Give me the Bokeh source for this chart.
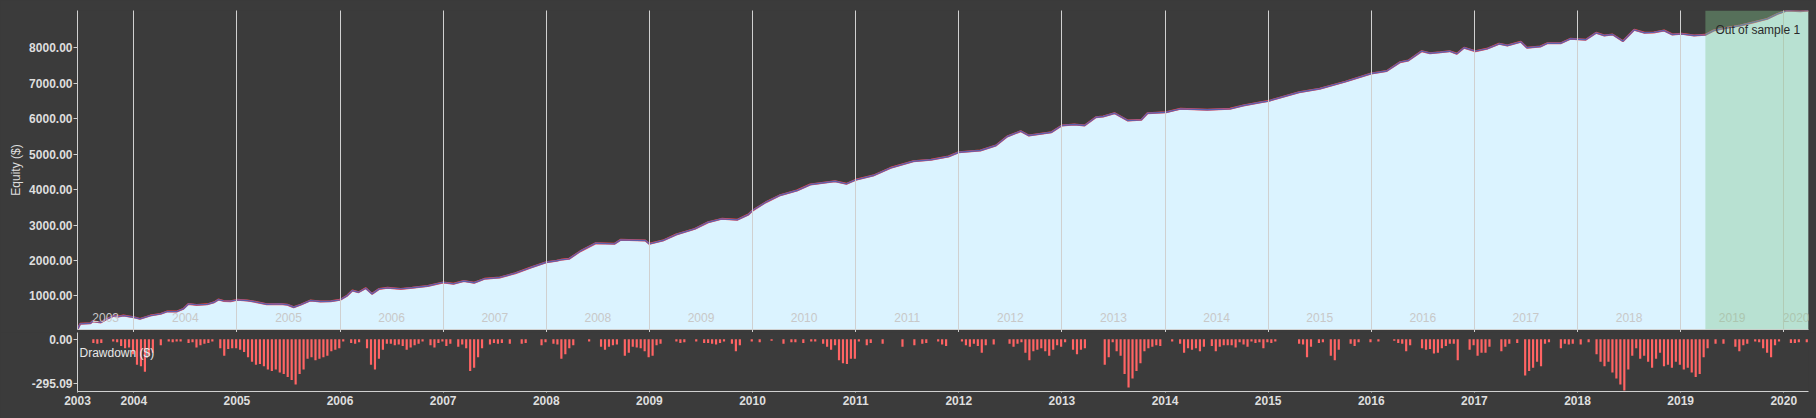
import numpy as np
from bokeh.plotting import figure
from bokeh.layouts import column
from bokeh.models import (Range1d, FixedTicker, NumeralTickFormatter,
                          CustomJSTickFormatter, BoxAnnotation, Label)
from bokeh.core.properties import value
from bokeh.embed import file_html
from bokeh.resources import INLINE

# ---------------- data ----------------
eq_year = [2003.454, 2003.48, 2003.58, 2003.60, 2003.68, 2003.74, 2003.81, 2003.85, 2003.90,
           2004.00, 2004.06, 2004.16, 2004.26, 2004.32, 2004.42, 2004.48, 2004.53, 2004.61,
           2004.71, 2004.78, 2004.82, 2004.87, 2004.94,
           2005.00, 2005.10, 2005.16, 2005.29, 2005.42, 2005.49, 2005.55, 2005.62, 2005.71,
           2005.81, 2005.91,
           2006.00, 2006.07, 2006.12, 2006.18, 2006.25, 2006.31, 2006.38, 2006.46, 2006.59,
           2006.70, 2006.85,
           2007.00, 2007.10, 2007.20, 2007.30, 2007.40, 2007.55, 2007.70, 2007.85,
           2008.00, 2008.10, 2008.14, 2008.22, 2008.33, 2008.48, 2008.66, 2008.72, 2008.96,
           2009.00, 2009.13, 2009.26, 2009.44, 2009.57, 2009.70, 2009.85, 2009.96,
           2010.00, 2010.13, 2010.26, 2010.43, 2010.56, 2010.80, 2010.91,
           2011.00, 2011.17, 2011.34, 2011.56, 2011.73, 2011.90,
           2012.00, 2012.21, 2012.36, 2012.47, 2012.60, 2012.68, 2012.90,
           2013.00, 2013.12, 2013.22, 2013.33, 2013.40, 2013.51, 2013.64, 2013.77, 2013.83,
           2014.01, 2014.15, 2014.41, 2014.63, 2014.76, 2014.93,
           2015.00, 2015.30, 2015.50, 2015.75,
           2016.00, 2016.15, 2016.28, 2016.36, 2016.49, 2016.57, 2016.67, 2016.76, 2016.83,
           2016.90,
           2017.01, 2017.12, 2017.24, 2017.32, 2017.45, 2017.51, 2017.64, 2017.71, 2017.84,
           2017.93,
           2018.08, 2018.18, 2018.26, 2018.34, 2018.44, 2018.55, 2018.65, 2018.74, 2018.84,
           2018.92,
           2019.01, 2019.13, 2019.24, 2019.32, 2019.45, 2019.58, 2019.71, 2019.84, 2019.94,
           2020.03, 2020.16, 2020.24]
eq_value = [50, 210, 226, 283, 250, 350, 443, 415, 443,
            396, 350, 443, 491, 556, 560, 632, 773, 745,
            760, 820, 895, 858, 850,
            887, 867, 840, 763, 773, 750, 678, 754, 867,
            839, 848,
            887, 1008, 1150, 1102, 1215, 1056, 1197, 1226, 1197,
            1230, 1280,
            1380, 1340, 1420, 1370, 1480, 1520, 1640, 1800,
            1950, 1990, 2017, 2045, 2260, 2486, 2469, 2582, 2562,
            2469, 2562, 2732, 2893, 3079, 3175, 3147, 3297,
            3410, 3644, 3833, 3975, 4144, 4237, 4164,
            4277, 4398, 4616, 4802, 4842, 4935,
            5056, 5105, 5246, 5500, 5650, 5528, 5622,
            5811, 5839, 5811, 6045, 6065, 6158, 5952, 5971, 6158,
            6186, 6282, 6254, 6282, 6376, 6469,
            6500, 6750, 6850, 7050,
            7280, 7350, 7600, 7647, 7910, 7853, 7881, 7910, 7836,
            8006,
            7910, 7977, 8119, 8071, 8175, 8006, 8042, 8136, 8136,
            8260,
            8232, 8429, 8353, 8381, 8192, 8514, 8429, 8440, 8494,
            8381,
            8400, 8353, 8372, 8494, 8570, 8636, 8729, 8823, 8964,
            9059, 9040, 9059]

# drawdown bars, one every 1/26 year starting at dd_start
dd_start = 2003.454
dd_per_year = 26
drawdown = [
    # 2003.5 - 2006.8
    0, 0, 0, 0, -25, -30, -25, 0, 0, -15,
    -20, -45, -60, -55, -100, -170, -180, -215, -110, -90,
    0, -40, 0, -15, -20, -15, -15, 0, -25, -20,
    -55, -40, -30, -25, -15, 0, -60, -110, -65, -60,
    -60, -70, -85, -120, -150, -170, -165, -180, -200, -210,
    -200, -220, -230, -250, -270, -300, -230, -200, -130, -120,
    -140, -130, -120, -110, -80, -70, -60, -15, 0, -25,
    -30, -20, 0, -60, -170, -200, -130, -70, -30, -30,
    -40, -35, -45, -70, -55, -40, -30, -15, 0,
    # 2006.9 - 2010.1
    -40, -55, -25, -15, -45, -30, 0, -50, -35, -60,
    -210, -190, -120, -60, 0, -35, -25, -30, -25, 0,
    -30, 0, 0, -30, -25, 0, 0, 0, -40, -20,
    0, -30, -35, -130, -100, -60, -40, 0, 0, 0,
    -15, 0, 0, -50, -70, -50, -40, -35, 0, -110,
    -90, -50, -55, -60, -80, -120, -110, -40, -30, 0,
    0, 0, -15, -25, -20, 0, 0, -15, 0, -25,
    -25, -30, -35, -25, -15, 0, -30, -80, -40, 0,
    0, -15, 0, -20, 0, 0,
    # 2010.2 - 2013.5
    -10, 0, 0, -30, 0, -20, -20, 0, -25, 0,
    -15, -15, 0, -30, -50, -70, -40, -140, -160, -165,
    -130, -130, -15, 0, -40, -25, 0, 0, -30, 0,
    0, 0, 0, -50, 0, 0, -40, 0, -30, -25,
    0, 0, -15, -35, -45, 0, 0, 0, -15, -40,
    -50, -30, -45, -90, -40, 0, -35, 0, 0, 0,
    -30, -50, -30, -20, -90, -140, -80, -70, -60, -80,
    -110, -70, -40, -50, -20, 0, -70, -100, -70, -60,
    0, 0, 0, 0, -170, -120, -20,
    # 2013.5 - 2016.9
    -80, -110, -230, -320, -260, -210, -160, -80, -60, -50,
    -40, -45, 0, 0, -15, 0, -30, -90, -60, -70,
    -60, -80, -50, 0, -45, -80, -50, -40, -40, -40,
    -55, -20, -35, -50, -15, -25, -20, -60, -20, -25,
    -15, 0, 0, 0, 0, 0, -30, -35, -120, -50,
    0, -25, -20, 0, -110, -140, -70, 0, 0, -30,
    -45, -20, 0, 0, -20, 0, -15, 0, 0, 0,
    -10, -25, -30, -80, -40, 0, 0, -60, -70, -65,
    -95, -90, -60, -45, -30, -30, -140,
    # 2016.9 - 2020.2
    0, 0, -70, -40, -110, -90, -90, -50, 0, 0,
    -80, -50, -30, 0, -25, 0, -240, -210, -190, -150,
    -180, -30, -20, 0, 0, -60, -30, -35, -30, 0,
    -35, 0, -20, 0, -100, -150, -180, -150, -220, -260,
    -300, -340, -200, -110, -60, -130, -110, -150, -190, -130,
    -90, -180, -170, -190, -150, -170, -200, -190, -220, -250,
    -230, -120, -60, 0, -30, 0, -30, 0, 0, -50,
    -80, -40, -30, 0, -15, -20, -60, -90, -120, -40,
    -15, 0, 0, -25, -25, -20, 0, -20,
]
dd_ticks = [0, -295.09]
dd_range = (-347, 45)
year_ticks = list(range(2004, 2021))
oos_start = 2019.24
oos_label = "Out of sample 1"

# ---------------- style ----------------
BG = "#3b3b3b"
FONT = "Liberation Sans"
TXT = "#dedede"
AX = "#d0d0d0"

x_lo, x_hi = eq_year[0], eq_year[-1]
y_lo, y_hi = min(eq_value), max(eq_value)
xr = Range1d(x_lo, x_hi)

p = figure(width=1816, height=332, x_range=xr, y_range=Range1d(y_lo, y_hi),
           output_backend="svg", toolbar_location=None,
           min_border_left=77, min_border_right=8, min_border_top=10, min_border_bottom=3,
           background_fill_color=BG, border_fill_color=BG, outline_line_color=None)

p.varea(x=eq_year, y1=y_lo, y2=eq_value, fill_color="#dbf3ff")
p.line(eq_year, eq_value, line_color="#ff4a4a", line_width=2.0)
p.line(eq_year, eq_value, line_color="#5c5fae", line_width=1.4)

# year labels inside the equity panel
lab_x, lab_t = [], []
for yr in range(int(np.floor(x_lo)), int(np.floor(x_hi)) + 1):
    a, b = max(yr, x_lo), min(yr + 1, x_hi)
    lab_x.append((a + b) / 2)
    lab_t.append(str(yr))
lab_y = [y_lo + (y_hi - y_lo) * 12.5 / 319] * len(lab_x)
p.text(x=lab_x, y=lab_y, text=lab_t, text_font=value(FONT), text_font_size="12px",
       text_color="#c8c8c8", text_align="center", text_baseline="middle")

p.xgrid.ticker = FixedTicker(ticks=year_ticks)
p.xgrid.grid_line_color = AX
p.xgrid.grid_line_width = 1
p.xgrid.level = "guide"
p.ygrid.visible = False

p.xaxis.ticker = FixedTicker(ticks=year_ticks)
p.xaxis.formatter = CustomJSTickFormatter(code="return ''")
p.xaxis.major_label_text_font_size = "0px"
p.xaxis.major_label_standoff = 0
p.xaxis.major_tick_out = 3
p.xaxis.major_tick_in = 0
p.xaxis.minor_tick_line_color = None
p.xaxis.axis_line_color = AX
p.xaxis.major_tick_line_color = AX

p.yaxis.ticker = FixedTicker(ticks=list(range(1000, 9000, 1000)))
p.yaxis.formatter = NumeralTickFormatter(format="0.00")
p.yaxis.axis_label = "Equity ($)"
p.yaxis.axis_label_text_font = FONT
p.yaxis.axis_label_text_font_style = "normal"
p.yaxis.axis_label_text_font_size = "12px"
p.yaxis.axis_label_text_color = TXT
p.yaxis.axis_label_standoff = 3
p.yaxis.major_label_text_font = FONT
p.yaxis.major_label_text_font_style = "bold"
p.yaxis.major_label_text_font_size = "12px"
p.yaxis.major_label_text_color = TXT
p.yaxis.major_label_standoff = 1
p.yaxis.major_tick_out = 4
p.yaxis.major_tick_in = 0
p.yaxis.minor_tick_line_color = None
p.yaxis.axis_line_color = AX
p.yaxis.major_tick_line_color = AX

p.add_layout(BoxAnnotation(left=oos_start, fill_color="#80c48b", fill_alpha=0.39,
                           line_color=None))
p.add_layout(Label(x=oos_start, x_offset=10, y=300, y_units="screen", text=oos_label,
                   text_font=FONT, text_font_size="12px", text_color="#2a2a2a",
                   text_baseline="middle"))

# ---------------- drawdown panel ----------------
d = figure(width=1816, height=86, x_range=xr, y_range=Range1d(*dd_range),
           output_backend="svg", toolbar_location=None,
           min_border_left=77, min_border_right=8, min_border_top=0, min_border_bottom=27,
           background_fill_color=BG, border_fill_color=BG, outline_line_color=None)
dd_x = [dd_start + i / dd_per_year for i in range(len(drawdown))]
d.vbar(x=dd_x, top=0, bottom=drawdown, width=0.55 / dd_per_year,
       fill_color="#ff6464", line_color=None)
d.xgrid.visible = False
d.ygrid.visible = False

d.xaxis.ticker = FixedTicker(ticks=[x_lo] + year_ticks)
d.xaxis.formatter = CustomJSTickFormatter(code="return String(Math.floor(tick))")
d.xaxis.major_label_text_font = FONT
d.xaxis.major_label_text_font_style = "bold"
d.xaxis.major_label_text_font_size = "12px"
d.xaxis.major_label_text_color = TXT
d.xaxis.major_label_standoff = 3
d.xaxis.major_tick_out = 1
d.xaxis.major_tick_in = 0
d.xaxis.minor_tick_line_color = None
d.xaxis.axis_line_color = AX
d.xaxis.major_tick_line_color = AX

d.yaxis.ticker = FixedTicker(ticks=dd_ticks)
d.yaxis.formatter = NumeralTickFormatter(format="0.00")
d.yaxis.major_label_text_font = FONT
d.yaxis.major_label_text_font_style = "bold"
d.yaxis.major_label_text_font_size = "12px"
d.yaxis.major_label_text_color = TXT
d.yaxis.major_label_standoff = 1
d.yaxis.major_tick_out = 4
d.yaxis.major_tick_in = 0
d.yaxis.minor_tick_line_color = None
d.yaxis.axis_line_color = AX
d.yaxis.major_tick_line_color = AX

d.add_layout(Label(x=2, y=39, x_units="screen", y_units="screen", text="Drawdown ($)",
                   text_font=FONT, text_font_size="12px", text_color="#e8e8e8",
                   text_baseline="middle"))

layout = column(p, d, spacing=0, styles={"background-color": BG})
html = file_html(layout, INLINE)
html = html.replace("<body>", '<body style="margin:0;background:%s">' % BG)
open("out.html", "w").write(html)
